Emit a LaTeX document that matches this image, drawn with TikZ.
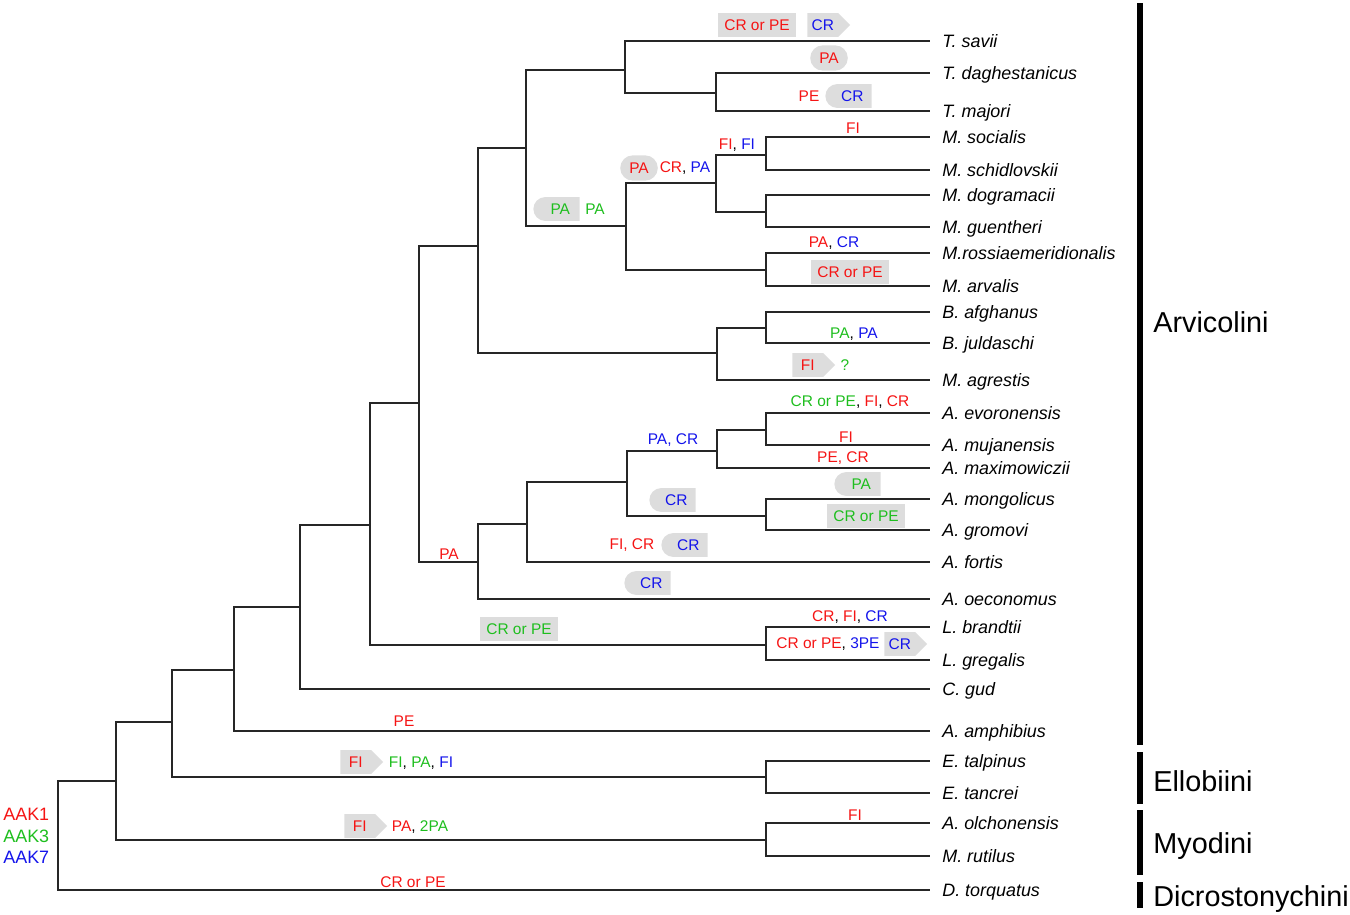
\documentclass[tikz,border=0pt]{standalone}
\usepackage{fontspec}
\setmainfont{Liberation Sans}
\usetikzlibrary{shapes.misc,shapes.symbols}

\definecolor{aakred}{RGB}{245,20,20}
\definecolor{aakgreen}{RGB}{30,190,30}
\definecolor{aakblue}{RGB}{20,20,235}
\definecolor{mutgrey}{RGB}{221,221,221}

\newcommand{\akr}[1]{\textcolor{aakred}{#1}}
\newcommand{\akg}[1]{\textcolor{aakgreen}{#1}}
\newcommand{\akb}[1]{\textcolor{aakblue}{#1}}

\tikzset{
  branch/.style={line width=1.1pt, black!85},
  tribebar/.style={line width=3.4pt},
  taxon/.style={anchor=base west, yshift=-0.13cm, inner sep=0pt, font=\fontsize{10.2}{12}\selectfont\itshape},
  tribe/.style={anchor=base west, yshift=-0.21cm, inner sep=0pt, font=\fontsize{16.4}{19}\selectfont},
  legend/.style={anchor=base west, yshift=-0.13cm, inner sep=0pt, font=\fontsize{10.2}{12}\selectfont},
  mut/.style={inner sep=0pt, font=\fontsize{8.8}{10}\selectfont},
  mutbox/.style={mut, fill=mutgrey, minimum height=13.6pt, inner xsep=3.4pt},
  mutarrow/.style={mut, fill=mutgrey, signal, signal to=east, signal pointer angle=90,
    minimum height=13.6pt, minimum width=24.4pt, anchor=west},
  muthalf/.style={mut, fill=mutgrey, rounded rectangle, rounded rectangle right arc=none,
    minimum height=13.6pt, minimum width=26.4pt, anchor=west},
  mutoval/.style={mut, fill=mutgrey, rounded rectangle, minimum height=14.4pt, minimum width=21.4pt},
}

\begin{document}
\begin{tikzpicture}[x=0.02cm,y=-0.02cm]
\useasboundingbox (0,0) rectangle (1350,914);

% tips
\coordinate (savii) at (930,41);
\coordinate (dagh) at (930,73);
\coordinate (majori) at (930,111);
\coordinate (socialis) at (930,137);
\coordinate (schidl) at (930,170);
\coordinate (dogram) at (930,195);
\coordinate (guenth) at (930,227);
\coordinate (rossiae) at (930,253);
\coordinate (arvalis) at (930,286);
\coordinate (afghan) at (930,312);
\coordinate (juldas) at (930,343);
\coordinate (agrest) at (930,380);
\coordinate (evoron) at (930,413);
\coordinate (mujan) at (930,445);
\coordinate (maximo) at (930,468);
\coordinate (mongol) at (930,499);
\coordinate (gromov) at (930,530);
\coordinate (fortis) at (930,562);
\coordinate (oecon) at (930,599);
\coordinate (brandt) at (930,627);
\coordinate (gregal) at (930,660);
\coordinate (gud) at (930,689);
\coordinate (amphib) at (930,731);
\coordinate (talpin) at (930,761);
\coordinate (tancrei) at (930,793);
\coordinate (olchon) at (930,823);
\coordinate (rutil) at (930,856);
\coordinate (torq) at (930,890);

% inner nodes
\coordinate (nTdm) at (716,93);
\coordinate (nT) at (625,70);
\coordinate (nMsoc) at (766,155);
\coordinate (nMdog) at (766,212);
\coordinate (nMa) at (716,183);
\coordinate (nMar) at (766,270);
\coordinate (nM) at (626,226);
\coordinate (nTM) at (526,148);
\coordinate (nBaf) at (766,328);
\coordinate (nB) at (717,353);
\coordinate (nTMB) at (478,246);
\coordinate (nAevo) at (766,430);
\coordinate (nAmax) at (717,451);
\coordinate (nAmon) at (766,516);
\coordinate (nAa) at (627,482);
\coordinate (nAf) at (527,524);
\coordinate (nA) at (478,562);
\coordinate (nTMBA) at (419,403);
\coordinate (nL) at (766,645);
\coordinate (nArv1) at (370,525);
\coordinate (nArv2) at (300,607);
\coordinate (nArv) at (234,670);
\coordinate (nE) at (766,777);
\coordinate (nAE) at (172,722);
\coordinate (nMy) at (766,840);
\coordinate (nAEM) at (116,781);
\coordinate (root) at (58,835);

% branches
\draw[branch] (nTdm) |- (dagh) (nTdm) |- (majori);
\draw[branch] (nT) |- (savii) (nT) |- (nTdm);
\draw[branch] (nMsoc) |- (socialis) (nMsoc) |- (schidl);
\draw[branch] (nMdog) |- (dogram) (nMdog) |- (guenth);
\draw[branch] (nMa) |- (nMsoc) (nMa) |- (nMdog);
\draw[branch] (nMar) |- (rossiae) (nMar) |- (arvalis);
\draw[branch] (nM) |- (nMa) (nM) |- (nMar);
\draw[branch] (nTM) |- (nT) (nTM) |- (nM);
\draw[branch] (nBaf) |- (afghan) (nBaf) |- (juldas);
\draw[branch] (nB) |- (nBaf) (nB) |- (agrest);
\draw[branch] (nTMB) |- (nTM) (nTMB) |- (nB);
\draw[branch] (nAevo) |- (evoron) (nAevo) |- (mujan);
\draw[branch] (nAmax) |- (nAevo) (nAmax) |- (maximo);
\draw[branch] (nAmon) |- (mongol) (nAmon) |- (gromov);
\draw[branch] (nAa) |- (nAmax) (nAa) |- (nAmon);
\draw[branch] (nAf) |- (nAa) (nAf) |- (fortis);
\draw[branch] (nA) |- (nAf) (nA) |- (oecon);
\draw[branch] (nTMBA) |- (nTMB) (nTMBA) |- (nA);
\draw[branch] (nL) |- (brandt) (nL) |- (gregal);
\draw[branch] (nArv1) |- (nTMBA) (nArv1) |- (nL);
\draw[branch] (nArv2) |- (nArv1) (nArv2) |- (gud);
\draw[branch] (nArv) |- (nArv2) (nArv) |- (amphib);
\draw[branch] (nE) |- (talpin) (nE) |- (tancrei);
\draw[branch] (nAE) |- (nArv) (nAE) |- (nE);
\draw[branch] (nMy) |- (olchon) (nMy) |- (rutil);
\draw[branch] (nAEM) |- (nAE) (nAEM) |- (nMy);
\draw[branch] (root) |- (nAEM) (root) |- (torq);

% species
\node[taxon] (t-savii) at ([xshift=0.24cm]savii) {T. savii};
\node[taxon] (t-dagh) at ([xshift=0.24cm]dagh) {T. daghestanicus};
\node[taxon] (t-majori) at ([xshift=0.24cm]majori) {T. majori};
\node[taxon] (t-socialis) at ([xshift=0.24cm]socialis) {M. socialis};
\node[taxon] (t-schidl) at ([xshift=0.24cm]schidl) {M. schidlovskii};
\node[taxon] (t-dogram) at ([xshift=0.24cm]dogram) {M. dogramacii};
\node[taxon] (t-guenth) at ([xshift=0.24cm]guenth) {M. guentheri};
\node[taxon] (t-rossiae) at ([xshift=0.24cm]rossiae) {M.rossiaemeridionalis};
\node[taxon] (t-arvalis) at ([xshift=0.24cm]arvalis) {M. arvalis};
\node[taxon] (t-afghan) at ([xshift=0.24cm]afghan) {B. afghanus};
\node[taxon] (t-juldas) at ([xshift=0.24cm]juldas) {B. juldaschi};
\node[taxon] (t-agrest) at ([xshift=0.24cm]agrest) {M. agrestis};
\node[taxon] (t-evoron) at ([xshift=0.24cm]evoron) {A. evoronensis};
\node[taxon] (t-mujan) at ([xshift=0.24cm]mujan) {A. mujanensis};
\node[taxon] (t-maximo) at ([xshift=0.24cm]maximo) {A. maximowiczii};
\node[taxon] (t-mongol) at ([xshift=0.24cm]mongol) {A. mongolicus};
\node[taxon] (t-gromov) at ([xshift=0.24cm]gromov) {A. gromovi};
\node[taxon] (t-fortis) at ([xshift=0.24cm]fortis) {A. fortis};
\node[taxon] (t-oecon) at ([xshift=0.24cm]oecon) {A. oeconomus};
\node[taxon] (t-brandt) at ([xshift=0.24cm]brandt) {L. brandtii};
\node[taxon] (t-gregal) at ([xshift=0.24cm]gregal) {L. gregalis};
\node[taxon] (t-gud) at ([xshift=0.24cm]gud) {C. gud};
\node[taxon] (t-amphib) at ([xshift=0.24cm]amphib) {A. amphibius};
\node[taxon] (t-talpin) at ([xshift=0.24cm]talpin) {E. talpinus};
\node[taxon] (t-tancrei) at ([xshift=0.24cm]tancrei) {E. tancrei};
\node[taxon] (t-olchon) at ([xshift=0.24cm]olchon) {A. olchonensis};
\node[taxon] (t-rutil) at ([xshift=0.24cm]rutil) {M. rutilus};
\node[taxon] (t-torq) at ([xshift=0.24cm]torq) {D. torquatus};

% tribes
\draw[tribebar] (1140,3) -- (1140,745);
\draw[tribebar] (1140,752) -- (1140,804);
\draw[tribebar] (1140,810) -- (1140,875);
\draw[tribebar] (1140,882) -- (1140,908);
\node[tribe] (arvicolini) at (1153,322) {Arvicolini};
\node[tribe] (ellobiini) at (1153,781) {Ellobiini};
\node[tribe] (myodini) at (1153,843) {Myodini};
\node[tribe] (dicrost) at (1153,896) {Dicrostonychini};

% legend
\node[legend] (aak1) at (3,814) {\akr{AAK1}};
\node[legend] (aak3) at (3,836) {\akg{AAK3}};
\node[legend] (aak7) at (3,857) {\akb{AAK7}};

% changes on branches
\node[mutbox] (m-savii1) at (757,25) {\akr{CR or PE}};
\node[mutarrow] (m-savii2) at (807,25) {\akb{CR}};
\node[mutoval] (m-dagh) at (829,58) {\akr{PA}};
\node[mut] (m-majori1) at (809,96) {\akr{PE}};
\node[muthalf] (m-majori2) at (825,96) {\hspace*{3.5pt}\akb{CR}};
\node[mut] (m-socialis) at (853,128) {\akr{FI}};
\node[mut] (m-Msoc) at (737,145) {\akr{FI}, \akb{FI}};
\node[mutoval] (m-Ma1) at (639,168) {\akr{PA}};
\node[mut] (m-Ma2) at (685,168) {\akr{CR}, \akb{PA}};
\node[muthalf] (m-M1) at (533,209) {\hspace*{3.5pt}\akg{PA}};
\node[mut] (m-M2) at (595,209) {\akg{PA}};
\node[mut] (m-rossiae) at (834,243) {\akr{PA}, \akb{CR}};
\node[mutbox] (m-arvalis) at (850,272) {\akr{CR or PE}};
\node[mut] (m-juldas) at (854,334) {\akg{PA}, \akb{PA}};
\node[mutarrow] (m-agrest1) at (792,365) {\akr{FI}};
\node[mut] (m-agrest2) at (845,365) {\akg{?}};
\node[mut] (m-evoron) at (850,402) {\akg{CR or PE}, \akr{FI}, \akr{CR}};
\node[mut] (m-mujan) at (846,437) {\akr{FI}};
\node[mut] (m-maximo) at (843,458) {\akr{PE, CR}};
\node[mut] (m-Amax) at (673,440) {\akb{PA, CR}};
\node[muthalf] (m-mongol) at (834,484) {\hspace*{3.5pt}\akg{PA}};
\node[muthalf] (m-Amon) at (649,500) {\hspace*{3.5pt}\akb{CR}};
\node[mutbox] (m-gromov) at (866,516) {\akg{CR or PE}};
\node[mut] (m-fortis1) at (632,545) {\akr{FI, CR}};
\node[muthalf] (m-fortis2) at (661,545) {\hspace*{3.5pt}\akb{CR}};
\node[muthalf] (m-oecon) at (624,583) {\hspace*{3.5pt}\akb{CR}};
\node[mut] (m-A) at (449,554) {\akr{PA}};
\node[mutbox] (m-L) at (519,629) {\akg{CR or PE}};
\node[mut] (m-brandt) at (850,617) {\akr{CR}, \akr{FI}, \akb{CR}};
\node[mut] (m-gregal1) at (828,644) {\akr{CR or PE}, \akb{3PE}};
\node[mutarrow] (m-gregal2) at (884,644) {\akb{CR}};
\node[mut] (m-amphib) at (404,721) {\akr{PE}};
\node[mutarrow] (m-E1) at (340,762) {\akr{FI}};
\node[mut] (m-E2) at (421,763) {\akg{FI}, \akg{PA}, \akb{FI}};
\node[mutarrow] (m-My1) at (344,826) {\akr{FI}};
\node[mut] (m-My2) at (420,827) {\akr{PA}, \akg{2PA}};
\node[mut] (m-olchon) at (855,815) {\akr{FI}};
\node[mut] (m-torq) at (413,882) {\akr{CR or PE}};
\end{tikzpicture}
\end{document}
